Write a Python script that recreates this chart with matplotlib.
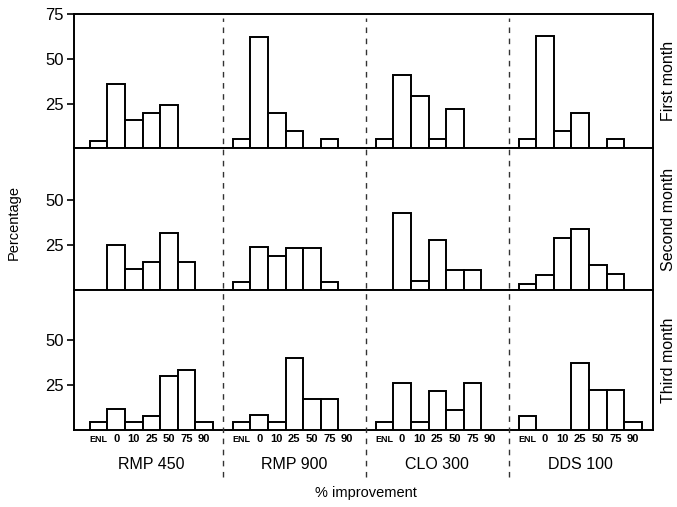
import matplotlib.pyplot as plt
import matplotlib.transforms as mtransforms
from matplotlib.lines import Line2D

plt.rcParams['font.family'] = ['Liberation Sans', 'DejaVu Sans']

# data (percentage of patients per improvement class)
categories = ["ENL", "0", "10", "25", "50", "75", "90"]
drugs = ["RMP 450", "RMP 900", "CLO 300", "DDS 100"]
months = ["First month", "Second month", "Third month"]

first_month = [
    [4, 36, 16, 20, 24, 0, 0],       # RMP 450
    [5, 62, 20, 10, 0, 5, 0],        # RMP 900
    [5.5, 41, 29, 5.5, 22, 0, 0],    # CLO 300
    [5, 63, 10, 20, 0, 5, 0],        # DDS 100
]
second_month = [
    [0, 25, 12, 15.5, 32, 15.5, 0],
    [4.5, 24, 19, 23.5, 23.5, 4.5, 0],
    [0, 43, 5, 28, 11, 11, 0],
    [3.5, 8.5, 29, 34, 14, 9, 0],
]
third_month = [
    [4.5, 11.5, 4.5, 7.5, 30, 33.5, 4.5],
    [4.5, 8.5, 4.5, 40, 17, 17, 0],
    [4.5, 26, 4.5, 21.5, 11, 26, 0],
    [8, 0, 0, 37.5, 22.5, 22.5, 4.5],
]
rows = [first_month, second_month, third_month]
ytops = [75, 79, 78]
yticks = [[25, 50, 75], [25, 50], [25, 50]]

# layout of the groups along the shared x axis (in bar widths)
col_step = 8.12
col_start = 0.91
n_cat = len(categories)

fig = plt.figure(figsize=(6.77, 5.07), dpi=100)
gs = fig.add_gridspec(3, 1, height_ratios=ytops, hspace=0,
                      left=0.109, right=0.9645, top=0.9724, bottom=0.152)
axes = [fig.add_subplot(gs[i]) for i in range(3)]

for r, ax in enumerate(axes):
    for c, vals in enumerate(rows[r]):
        xs = [col_start + c * col_step + i for i in range(n_cat) if vals[i] > 0]
        hs = [v for v in vals if v > 0]
        ax.bar(xs, hs, width=1.0, align="edge", facecolor="white",
               edgecolor="black", linewidth=1.4, zorder=3)
    ax.set_xlim(0, 32.9)
    ax.set_ylim(0, ytops[r])
    ax.set_yticks(yticks[r])
    ax.tick_params(axis="y", direction="out", length=5, width=1.2,
                   labelsize=12, pad=2)
    for s in ax.spines.values():
        s.set_linewidth(1.4)
    ax.text(1.026, 0.5, months[r], rotation=90, transform=ax.transAxes,
            ha="center", va="center", fontsize=11.5)
    if r < 2:
        ax.set_xticks([])
    else:
        ticks, labels = [], []
        for c in range(len(drugs)):
            for i, lab in enumerate(categories):
                ticks.append(col_start + c * col_step + i + 0.5)
                labels.append(lab)
        ax.set_xticks(ticks)
        ax.set_xticklabels(labels, fontsize=8, fontweight="bold")
        ax.tick_params(axis="x", length=0, pad=3)
        for k, t in enumerate(ax.get_xticklabels()):
            if labels[k] == "ENL":
                t.set_fontsize(6.5)
                t.set_y(-0.006)

# dashed separators between drug groups, running down into the label area
bottom_ax = axes[2]
trans = mtransforms.blended_transform_factory(bottom_ax.transData, fig.transFigure)
for c in range(1, len(drugs)):
    xd = col_start + (c - 1) * col_step + n_cat + (col_step - n_cat) / 2
    fig.add_artist(Line2D([xd, xd], [0.06, 0.965], transform=trans,
                          color="#333333", linestyle=(0, (4, 4)),
                          linewidth=1.0, zorder=1))

for c, name in enumerate(drugs):
    xc = col_start + c * col_step + n_cat / 2
    fig.text(xc, 0.083, name, transform=trans, fontsize=11.5, ha="center",
             va="center")

fig.text(0.54, 0.028, "% improvement", ha="center", va="center", fontsize=10.5)
fig.text(0.02, 0.562, "Percentage", rotation=90, ha="center", va="center",
         fontsize=10.5)

fig.savefig("out.png", dpi=100)
